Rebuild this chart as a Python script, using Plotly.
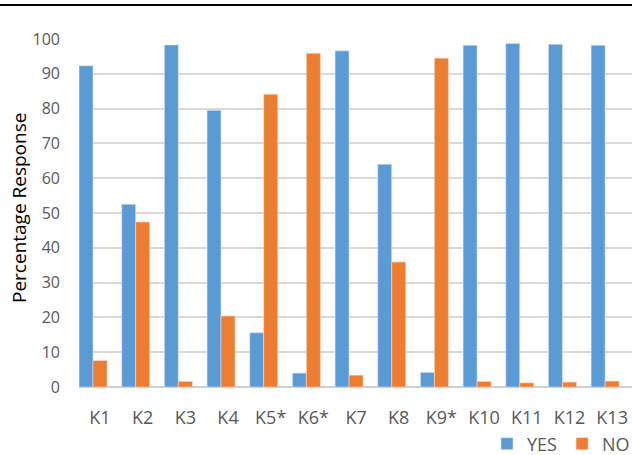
import plotly.graph_objects as go

categories = ["K1", "K2", "K3", "K4", "K5*", "K6*", "K7", "K8", "K9*", "K10", "K11", "K12", "K13"]
yes_values = [92.3, 52.5, 98.3, 79.5, 15.6, 4.0, 96.6, 64.0, 4.2, 98.2, 98.7, 98.5, 98.2]
no_values = [7.6, 47.4, 1.6, 20.4, 84.1, 95.9, 3.4, 35.9, 94.5, 1.6, 1.2, 1.4, 1.7]
y_ticks = [0, 10, 20, 30, 40, 50, 60, 70, 80, 90, 100]

FONT = "Open Sans"
GREY = "#595959"

x = list(range(len(categories)))

fig = go.Figure()
fig.add_trace(go.Bar(x=x, y=yes_values, name="YES", marker=dict(color="#5b9bd5", line=dict(color="#dce9f6", width=0.6))))
fig.add_trace(go.Bar(x=x, y=no_values, name="NO", marker=dict(color="#ed7d31", line=dict(color="#fbd9c2", width=0.6))))

L, R, T, B = 79, 0, 39, 68
W, H = 632, 455
pw = W - L - R
ph = H - T - B

fig.update_layout(
    width=W, height=H,
    margin=dict(l=L, r=R, t=T, b=B, pad=0, autoexpand=False),
    plot_bgcolor="white", paper_bgcolor="white",
    barmode="group", bargap=0.344, bargroupgap=0,
    font=dict(family=FONT, color=GREY),
    showlegend=True,
    legend=dict(orientation="h", x=(487 - L) / pw, xanchor="left", y=(ph - (444 - T)) / ph, yanchor="middle",
                font=dict(size=18, color=GREY), itemwidth=30, tracegroupgap=0,
                bgcolor="rgba(0,0,0,0)"),
    xaxis=dict(range=[-0.328, 12.63], tickmode="array", tickvals=[i + 0.164 for i in x], ticktext=categories,
               showgrid=False, zeroline=False, showline=False, ticks="", ticklabelstandoff=18,
               tickfont=dict(size=18, color=GREY), fixedrange=True, automargin=False),
    yaxis=dict(range=[0, 100], tickmode="array", tickvals=y_ticks, showgrid=True, gridcolor="#d9d9d9",
               gridwidth=1.5, zeroline=True, zerolinecolor="#d0d0d0", zerolinewidth=2,
               showline=False, ticks="", ticklabelstandoff=18, tickfont=dict(size=16, color=GREY),
               automargin=False, fixedrange=True),
    shapes=[dict(type="line", xref="paper", yref="paper", x0=-L / pw, x1=1.0,
                 y0=(ph + T - 5) / ph, y1=(ph + T - 5) / ph, line=dict(color="black", width=2))],
    annotations=[dict(text="Percentage Response", xref="paper", yref="paper", x=(19 - L) / pw, y=0.5 + 5 / ph,
                      xanchor="center", yanchor="middle", textangle=-90, showarrow=False,
                      font=dict(size=19, color="#000000"))],
)

fig.write_html("out.html", config={"displayModeBar": False},
               post_script="document.body.style.margin='0';")
